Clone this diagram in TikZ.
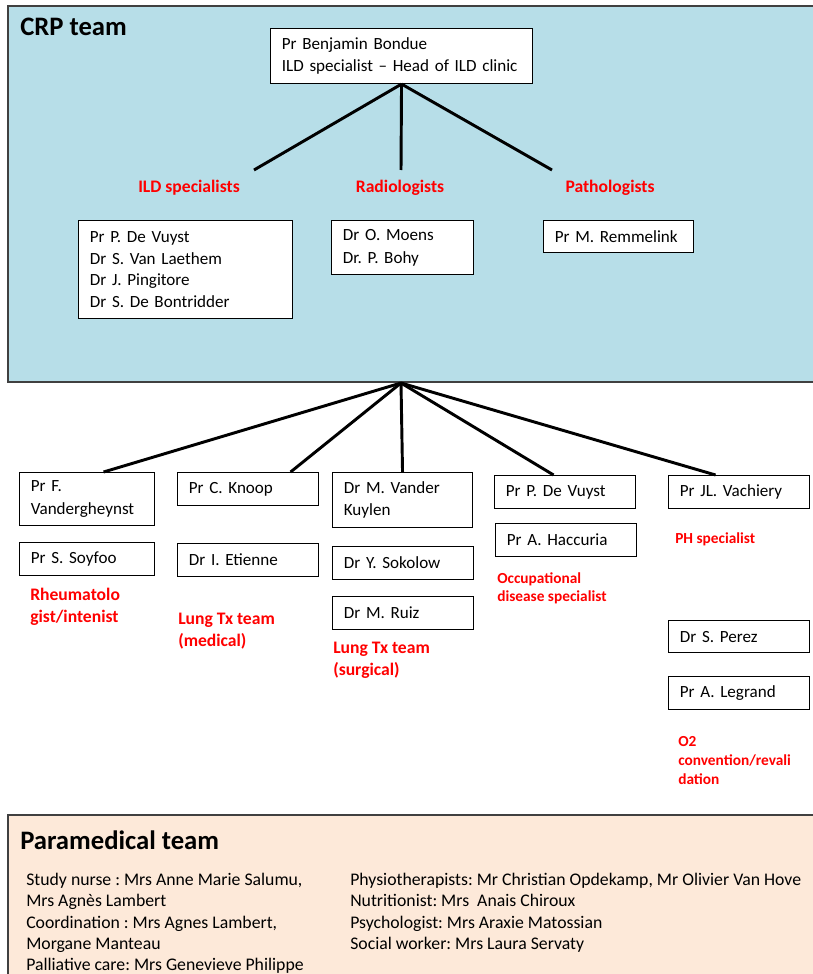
\documentclass[tikz,border=0pt]{standalone}
\usepackage{fontspec}
\setmainfont{Carlito}
\usetikzlibrary{positioning}
\definecolor{CRPblue}{HTML}{B7DEE8}
\definecolor{ParaPeach}{HTML}{FDE9D9}
\definecolor{RoleRed}{HTML}{FF0000}
\definecolor{Frame}{HTML}{404040}
\frenchspacing

\begin{document}
\begin{tikzpicture}[x=0.75pt, y=-0.75pt,
    every node/.style={font=\fontsize{12.8}{17}\selectfont},
    member/.style={draw=black, line width=0.8pt, fill=white, anchor=north west,
        align=left, inner xsep=8.5pt, inner ysep=0pt},
    role/.style={font=\fontsize{13.2}{16.5}\selectfont\bfseries, text=RoleRed,
        align=left, inner sep=0pt},
    smallrole/.style={font=\fontsize{11.5}{13.8}\selectfont\bfseries, text=RoleRed,
        align=left, inner sep=0pt, anchor=north west},
    title/.style={font=\fontsize{20}{24}\selectfont\bfseries, anchor=west, inner sep=0pt},
    link/.style={line width=2.2pt, black}
]
\useasboundingbox (0,0) rectangle (813,974);

% === CRP team panel ===
\draw[Frame, line width=0.8pt, fill=CRPblue] (8,6) rectangle (830,382);
\node[title] (crp) at (20,27) {CRP team};

\node[member, text width=179.5pt, minimum height=41.25pt] (boss) at (270,28)
    {Pr Benjamin Bondue\\ILD specialist – Head of ILD clinic};

% group labels
\node[role] (ildlbl) at (189,188) {ILD specialists};
\node[role] (radlbl) at (400,188) {Radiologists};
\node[role] (pathlbl) at (610,188) {Pathologists};

\coordinate (ildend) at (254,170);
\coordinate (radend) at (401,170);
\coordinate (pathend) at (552,170);

\draw[link] (boss.south) -- (ildend);
\draw[link] (boss.south) -- (radend);
\draw[link] (boss.south) -- (pathend);

% group members
\node[member, text width=143.5pt, minimum height=73.5pt,
      font=\fontsize{12.8}{16.25}\selectfont] (ild) at (78,220)
    {Pr P. De Vuyst\\Dr S. Van Laethem\\Dr J. Pingitore\\Dr S. De Bontridder};
\node[member, text width=89.5pt, minimum height=40.5pt] (rad) at (331,220)
    {Dr O. Moens\\Dr. P. Bohy};
\node[member, text width=95.5pt, minimum height=24pt] (path) at (543,220)
    {Pr M. Remmelink};

% === Partner specialists ===
\coordinate (hub) at (401,383);

% column 1
\node[member, text width=84.25pt, minimum height=39.75pt] (fv) at (19,472)
    {Pr F.\\Vandergheynst};
\node[member, text width=84.25pt, minimum height=24.75pt] (ss) at (19,542)
    {Pr S. Soyfoo};
\node[role, anchor=north west] (rheumlbl) at (30,588)
    {Rheumatolo\\gist/intenist};

% column 2
\node[member, text width=88.75pt, minimum height=24.75pt] (ck) at (177,472)
    {Pr C. Knoop};
\node[member, text width=88.75pt, minimum height=24.75pt] (ie) at (177,543)
    {Dr I. Etienne};
\node[role, anchor=north west] (medlbl) at (178,613)
    {Lung Tx team\\(medical)};

% column 3
\node[member, text width=88pt, minimum height=41.25pt] (mvk) at (332,472)
    {Dr M. Vander\\Kuylen};
\node[member, text width=88.75pt, minimum height=24.75pt] (ys) at (332,546)
    {Dr Y. Sokolow};
\node[member, text width=88.75pt, minimum height=24.75pt] (mr) at (332,596)
    {Dr M. Ruiz};
\node[role, anchor=north west] (surglbl) at (333,642)
    {Lung Tx team\\(surgical)};

% column 4
\node[member, text width=88.75pt, minimum height=24.75pt] (pdv) at (494,475)
    {Pr P. De Vuyst};
\node[member, text width=88.75pt, minimum height=24.75pt] (ah) at (495,523)
    {Pr A. Haccuria};
\node[smallrole] (occlbl) at (497,572)
    {Occupational\\disease specialist};

% column 5
\node[member, text width=88.75pt, minimum height=24.75pt] (jlv) at (668,475)
    {Pr JL. Vachiery};
\node[smallrole] (phlbl) at (675,532) {PH specialist};
\node[member, text width=88.75pt, minimum height=24pt] (sp) at (668,620)
    {Dr S. Perez};
\node[member, text width=88.75pt, minimum height=24.75pt] (al) at (668,676)
    {Pr A. Legrand};
\node[smallrole, font=\fontsize{11.5}{14.3}\selectfont\bfseries] (o2lbl) at (678,736)
    {O2\\convention/revali\\dation};

\draw[link] (hub) -- ([xshift=12.4pt]fv.north);
\draw[link] (hub) -- ([xshift=31.9pt]ck.north);
\draw[link] (hub) -- (mvk.north);
\draw[link] (hub) -- ([xshift=-8.6pt]pdv.north);
\draw[link] (hub) -- ([xshift=-17.6pt]jlv.north);

% === Paramedical team panel ===
\draw[Frame, line width=0.8pt, fill=ParaPeach] (8,815) rectangle (830,990);
\node[title] (para) at (20,840) {Paramedical team};

\node[anchor=north west, align=left, inner sep=0pt,
      font=\fontsize{13.3}{16}\selectfont] (paraleft) at (26,873)
    {Study nurse : Mrs Anne Marie Salumu,\\Mrs Agnès Lambert\\
     Coordination : Mrs Agnes Lambert,\\Morgane Manteau\\
     Palliative care: Mrs Genevieve Philippe};
\node[anchor=north west, align=left, inner sep=0pt,
      font=\fontsize{13.3}{16}\selectfont] (pararight) at (350,873)
    {Physiotherapists: Mr Christian Opdekamp, Mr Olivier Van Hove\\
     Nutritionist: Mrs\ \ Anais Chiroux\\
     Psychologist: Mrs Araxie Matossian\\
     Social worker: Mrs Laura Servaty};

\end{tikzpicture}
\end{document}
